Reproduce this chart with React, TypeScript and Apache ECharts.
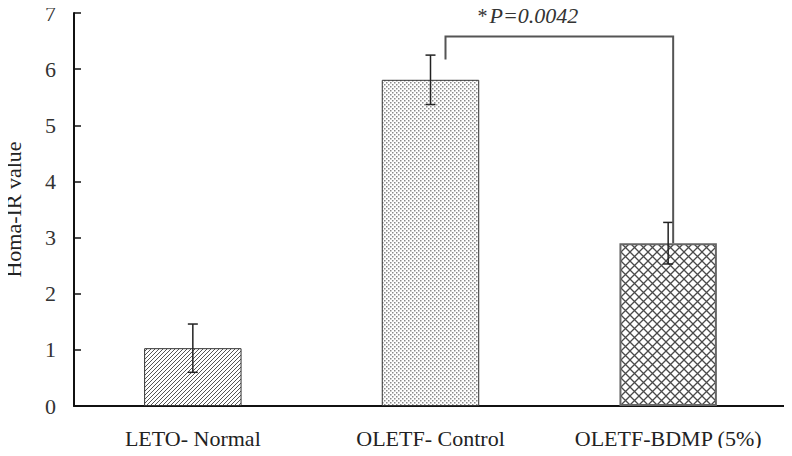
import React, { useEffect, useRef } from "react";
import * as echarts from "echarts";

const categories = ["LETO- Normal", "OLETF- Control", "OLETF-BDMP (5%)"];
const means = [1.03, 5.81, 2.9];
const errors = [0.43, 0.44, 0.37];
const yMin = 0;
const yMax = 7;
const yInterval = 1;
const yAxisName = "Homa-IR value";
const pPrefix = "*";
const pText = "P=0.0042";
// bracket: from group 1 (OLETF- Control) to group 2 (OLETF-BDMP)
const bracketFrom = 1;
const bracketTo = 2;
const bracketLow = 6.17;
const bracketTop = 6.58;

const FONT = "'Liberation Serif', 'Times New Roman', serif";

function makeHatch(): HTMLCanvasElement {
  const c = document.createElement("canvas");
  c.width = 4;
  c.height = 4;
  const g = c.getContext("2d")!;
  g.fillStyle = "#ffffff";
  g.fillRect(0, 0, 4, 4);
  g.strokeStyle = "#555555";
  g.lineWidth = 1;
  g.beginPath();
  g.moveTo(-1, 5);
  g.lineTo(5, -1);
  g.moveTo(-3, 3);
  g.lineTo(3, -3);
  g.moveTo(1, 7);
  g.lineTo(7, 1);
  g.stroke();
  return c;
}

function makeDots(): HTMLCanvasElement {
  const c = document.createElement("canvas");
  c.width = 4;
  c.height = 4;
  const g = c.getContext("2d")!;
  g.fillStyle = "#ffffff";
  g.fillRect(0, 0, 4, 4);
  g.fillStyle = "#8a8a8a";
  g.fillRect(0, 0, 1.5, 1.5);
  g.fillRect(2, 2, 1.5, 1.5);
  return c;
}

function makeCross(): HTMLCanvasElement {
  const s = 9;
  const c = document.createElement("canvas");
  c.width = s;
  c.height = s;
  const g = c.getContext("2d")!;
  g.fillStyle = "#ffffff";
  g.fillRect(0, 0, s, s);
  g.strokeStyle = "#4a4a4a";
  g.lineWidth = 1.3;
  g.beginPath();
  g.moveTo(0, 0);
  g.lineTo(s, s);
  g.moveTo(s, 0);
  g.lineTo(0, s);
  g.stroke();
  return c;
}

export default function App() {
  const ref = useRef<HTMLDivElement>(null);

  useEffect(() => {
    if (!ref.current) return;
    const chart = echarts.init(ref.current, null, { renderer: "svg" });
    const patterns = [makeHatch(), makeDots(), makeCross()];
    const borders = [
      { color: "#333333", width: 1 },
      { color: "#333333", width: 1 },
      { color: "#666666", width: 2 },
    ];

    const option: any = {
      animation: false,
      grid: {
        left: 74,
        right: 5,
        top: 13,
        bottom: 50,
        containLabel: false,
        outerBoundsMode: "none",
      },
      xAxis: {
        type: "category",
        data: categories,
        axisLine: { lineStyle: { color: "#111", width: 2 } },
        axisTick: {
          inside: true,
          alignWithLabel: false,
          length: 5,
          lineStyle: { color: "#111", width: 1.5 },
        },
        axisLabel: {
          interval: 0,
          hideOverlap: false,
          color: "#222",
          fontFamily: FONT,
          fontSize: 22,
          margin: 21,
        },
      },
      yAxis: {
        type: "value",
        min: yMin,
        max: yMax,
        interval: yInterval,
        name: yAxisName,
        nameLocation: "middle",
        nameGap: 50,
        nameTextStyle: { color: "#222", fontFamily: FONT, fontSize: 22 },
        splitLine: { show: false },
        axisLine: { show: true, lineStyle: { color: "#111", width: 2 } },
        axisTick: {
          show: true,
          inside: true,
          length: 7,
          lineStyle: { color: "#111", width: 1.5 },
        },
        axisLabel: {
          color: "#333",
          fontFamily: FONT,
          fontSize: 22,
          margin: 18,
        },
      },
      series: [
        {
          type: "bar",
          barWidth: "41%",
          data: means.map((v, i) => ({
            value: v,
            itemStyle: {
              color: { image: patterns[i], repeat: "repeat" },
              borderColor: borders[i].color,
              borderWidth: borders[i].width,
            },
          })),
          z: 2,
        },
        {
          type: "custom",
          z: 5,
          data: means.map((v, i) => [i, v - errors[i], v + errors[i]]),
          renderItem: (params: any, api: any) => {
            const x = api.value(0);
            const lo = api.coord([x, api.value(1)]);
            const hi = api.coord([x, api.value(2)]);
            const half = 5;
            const style = { stroke: "#222", lineWidth: 1.5 };
            return {
              type: "group",
              children: [
                { type: "line", shape: { x1: hi[0], y1: hi[1], x2: lo[0], y2: lo[1] }, style },
                { type: "line", shape: { x1: hi[0] - half, y1: hi[1], x2: hi[0] + half, y2: hi[1] }, style },
                { type: "line", shape: { x1: lo[0] - half, y1: lo[1], x2: lo[0] + half, y2: lo[1] }, style },
              ],
            };
          },
        },
        {
          type: "custom",
          z: 6,
          clip: false,
          data: [[bracketFrom, bracketTo, bracketLow, bracketTop]],
          renderItem: (params: any, api: any) => {
            const pL = api.coord([api.value(0), api.value(2)]);
            const pT = api.coord([api.value(0), api.value(3)]);
            const pR = api.coord([api.value(1), means[bracketTo]]);
            const xL = pL[0] + 15;
            const xR = pR[0] + 5;
            return {
              type: "group",
              children: [
                {
                  type: "polyline",
                  shape: {
                    points: [
                      [xL, pL[1]],
                      [xL, pT[1]],
                      [xR, pT[1]],
                      [xR, pR[1]],
                    ],
                  },
                  style: { stroke: "#555", lineWidth: 2, fill: null },
                },
                {
                  type: "text",
                  x: xL + 32,
                  y: pT[1] - 21,
                  style: {
                    text: `{n|${pPrefix}}{i|${pText}}`,
                    verticalAlign: "middle",
                    align: "left",
                    rich: {
                      n: { fontFamily: FONT, fontSize: 20, fill: "#333", padding: [0, 2, 0, 0] },
                      i: { fontFamily: FONT, fontSize: 22, fontStyle: "italic", fill: "#333" },
                    },
                  },
                },
              ],
            };
          },
        },
      ],
    };
    chart.setOption(option);
    return () => chart.dispose();
  }, []);

  return <div ref={ref} style={{ width: 792, height: 456, margin: -8, background: "#fff" }} />;
}
